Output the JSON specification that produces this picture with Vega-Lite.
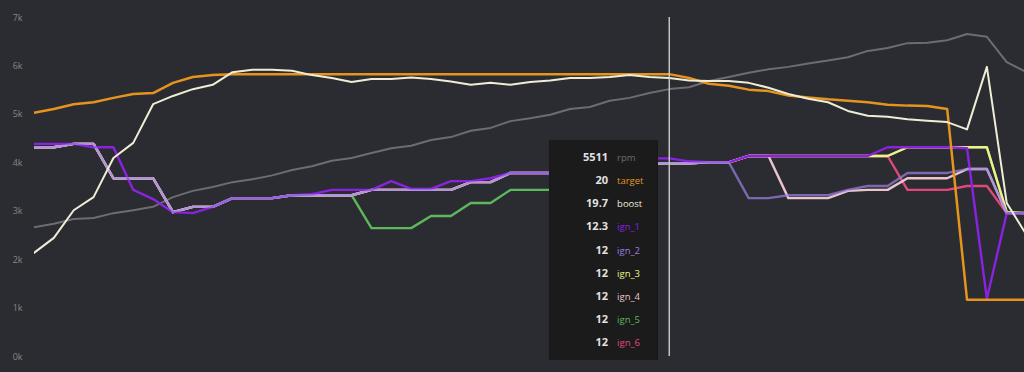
{
  "$schema": "https://vega.github.io/schema/vega-lite/v6.json",
  "width": 990,
  "height": 339,
  "autosize": {"type": "none"},
  "padding": {"left": 34, "top": 17, "right": 0, "bottom": 16},
  "background": "#2b2c31",
  "config": {"view": {"stroke": null}, "font": "Open Sans"},
  "datasets": {
    "series": [
      {"i":0,"rpm":2660,"target":5020,"boost":2130,"ign_1":4380,"ign_2":4310,"ign_3":4310,"ign_4":4310,"ign_5":4310,"ign_6":4310},
      {"i":1,"rpm":2730,"target":5100,"boost":2440,"ign_1":4380,"ign_2":4310,"ign_3":4310,"ign_4":4310,"ign_5":4310,"ign_6":4310},
      {"i":2,"rpm":2830,"target":5200,"boost":3010,"ign_1":4380,"ign_2":4380,"ign_3":4380,"ign_4":4380,"ign_5":4380,"ign_6":4380},
      {"i":3,"rpm":2850,"target":5240,"boost":3280,"ign_1":4310,"ign_2":4380,"ign_3":4380,"ign_4":4380,"ign_5":4380,"ign_6":4380},
      {"i":4,"rpm":2950,"target":5330,"boost":4090,"ign_1":4310,"ign_2":3670,"ign_3":3670,"ign_4":3670,"ign_5":3670,"ign_6":3670},
      {"i":5,"rpm":3010,"target":5410,"boost":4400,"ign_1":3430,"ign_2":3670,"ign_3":3670,"ign_4":3670,"ign_5":3670,"ign_6":3670},
      {"i":6,"rpm":3080,"target":5430,"boost":5200,"ign_1":3240,"ign_2":3670,"ign_3":3670,"ign_4":3670,"ign_5":3670,"ign_6":3670},
      {"i":7,"rpm":3280,"target":5640,"boost":5370,"ign_1":2970,"ign_2":2970,"ign_3":2970,"ign_4":2970,"ign_5":2970,"ign_6":2970},
      {"i":8,"rpm":3410,"target":5760,"boost":5510,"ign_1":2950,"ign_2":3080,"ign_3":3080,"ign_4":3080,"ign_5":3080,"ign_6":3080},
      {"i":9,"rpm":3490,"target":5800,"boost":5600,"ign_1":3080,"ign_2":3080,"ign_3":3080,"ign_4":3080,"ign_5":3080,"ign_6":3080},
      {"i":10,"rpm":3590,"target":5820,"boost":5860,"ign_1":3260,"ign_2":3260,"ign_3":3260,"ign_4":3260,"ign_5":3260,"ign_6":3260},
      {"i":11,"rpm":3650,"target":5820,"boost":5910,"ign_1":3260,"ign_2":3260,"ign_3":3260,"ign_4":3260,"ign_5":3260,"ign_6":3260},
      {"i":12,"rpm":3730,"target":5820,"boost":5910,"ign_1":3260,"ign_2":3260,"ign_3":3260,"ign_4":3260,"ign_5":3260,"ign_6":3260},
      {"i":13,"rpm":3840,"target":5820,"boost":5890,"ign_1":3320,"ign_2":3320,"ign_3":3320,"ign_4":3320,"ign_5":3320,"ign_6":3320},
      {"i":14,"rpm":3920,"target":5820,"boost":5800,"ign_1":3340,"ign_2":3320,"ign_3":3320,"ign_4":3320,"ign_5":3320,"ign_6":3320},
      {"i":15,"rpm":4030,"target":5820,"boost":5740,"ign_1":3430,"ign_2":3320,"ign_3":3320,"ign_4":3320,"ign_5":3320,"ign_6":3320},
      {"i":16,"rpm":4090,"target":5820,"boost":5660,"ign_1":3430,"ign_2":3320,"ign_3":3320,"ign_4":3320,"ign_5":3320,"ign_6":3320},
      {"i":17,"rpm":4190,"target":5820,"boost":5720,"ign_1":3430,"ign_2":3430,"ign_3":3430,"ign_4":3430,"ign_5":2640,"ign_6":3430},
      {"i":18,"rpm":4290,"target":5820,"boost":5720,"ign_1":3610,"ign_2":3430,"ign_3":3430,"ign_4":3430,"ign_5":2640,"ign_6":3430},
      {"i":19,"rpm":4340,"target":5820,"boost":5750,"ign_1":3450,"ign_2":3430,"ign_3":3430,"ign_4":3430,"ign_5":2640,"ign_6":3430},
      {"i":20,"rpm":4460,"target":5820,"boost":5720,"ign_1":3450,"ign_2":3430,"ign_3":3430,"ign_4":3430,"ign_5":2890,"ign_6":3430},
      {"i":21,"rpm":4520,"target":5820,"boost":5670,"ign_1":3610,"ign_2":3430,"ign_3":3430,"ign_4":3430,"ign_5":2890,"ign_6":3430},
      {"i":22,"rpm":4650,"target":5820,"boost":5600,"ign_1":3610,"ign_2":3590,"ign_3":3590,"ign_4":3590,"ign_5":3160,"ign_6":3590},
      {"i":23,"rpm":4710,"target":5820,"boost":5640,"ign_1":3670,"ign_2":3590,"ign_3":3590,"ign_4":3590,"ign_5":3160,"ign_6":3590},
      {"i":24,"rpm":4850,"target":5820,"boost":5600,"ign_1":3780,"ign_2":3780,"ign_3":3780,"ign_4":3780,"ign_5":3430,"ign_6":3780},
      {"i":25,"rpm":4910,"target":5820,"boost":5660,"ign_1":3780,"ign_2":3780,"ign_3":3780,"ign_4":3780,"ign_5":3430,"ign_6":3780},
      {"i":26,"rpm":4980,"target":5820,"boost":5690,"ign_1":3780,"ign_2":3780,"ign_3":3780,"ign_4":3780,"ign_5":3430,"ign_6":3780},
      {"i":27,"rpm":5100,"target":5820,"boost":5740,"ign_1":3800,"ign_2":3780,"ign_3":3780,"ign_4":3780,"ign_5":3600,"ign_6":3780},
      {"i":28,"rpm":5140,"target":5820,"boost":5740,"ign_1":3850,"ign_2":3850,"ign_3":3850,"ign_4":3850,"ign_5":3800,"ign_6":3850},
      {"i":29,"rpm":5270,"target":5820,"boost":5760,"ign_1":3950,"ign_2":3920,"ign_3":3920,"ign_4":3920,"ign_5":3900,"ign_6":3920},
      {"i":30,"rpm":5330,"target":5820,"boost":5800,"ign_1":4050,"ign_2":3980,"ign_3":3980,"ign_4":3980,"ign_5":3980,"ign_6":3980},
      {"i":31,"rpm":5430,"target":5820,"boost":5760,"ign_1":4080,"ign_2":3980,"ign_3":3980,"ign_4":3980,"ign_5":3980,"ign_6":3980},
      {"i":32,"rpm":5511,"target":5820,"boost":5740,"ign_1":4080,"ign_2":3980,"ign_3":3980,"ign_4":3980,"ign_5":3980,"ign_6":3980},
      {"i":33,"rpm":5550,"target":5740,"boost":5690,"ign_1":4020,"ign_2":3980,"ign_3":3980,"ign_4":3980,"ign_5":3980,"ign_6":3980},
      {"i":34,"rpm":5680,"target":5620,"boost":5680,"ign_1":4000,"ign_2":4000,"ign_3":4000,"ign_4":4000,"ign_5":4000,"ign_6":4000},
      {"i":35,"rpm":5760,"target":5580,"boost":5680,"ign_1":4000,"ign_2":4000,"ign_3":4000,"ign_4":4000,"ign_5":4000,"ign_6":4000},
      {"i":36,"rpm":5850,"target":5500,"boost":5640,"ign_1":4130,"ign_2":3260,"ign_3":4130,"ign_4":4130,"ign_5":4130,"ign_6":4130},
      {"i":37,"rpm":5920,"target":5470,"boost":5540,"ign_1":4130,"ign_2":3260,"ign_3":4130,"ign_4":4130,"ign_5":4130,"ign_6":4130},
      {"i":38,"rpm":5970,"target":5380,"boost":5410,"ign_1":4130,"ign_2":3320,"ign_3":4130,"ign_4":3260,"ign_5":4130,"ign_6":4130},
      {"i":39,"rpm":6040,"target":5340,"boost":5310,"ign_1":4130,"ign_2":3320,"ign_3":4130,"ign_4":3260,"ign_5":4130,"ign_6":4130},
      {"i":40,"rpm":6100,"target":5300,"boost":5240,"ign_1":4130,"ign_2":3320,"ign_3":4130,"ign_4":3260,"ign_5":4130,"ign_6":4130},
      {"i":41,"rpm":6170,"target":5270,"boost":5060,"ign_1":4130,"ign_2":3430,"ign_3":4130,"ign_4":3410,"ign_5":4130,"ign_6":4130},
      {"i":42,"rpm":6300,"target":5240,"boost":4960,"ign_1":4130,"ign_2":3510,"ign_3":4130,"ign_4":3430,"ign_5":4130,"ign_6":4130},
      {"i":43,"rpm":6360,"target":5190,"boost":4940,"ign_1":4310,"ign_2":3510,"ign_3":4130,"ign_4":3430,"ign_5":4130,"ign_6":4130},
      {"i":44,"rpm":6460,"target":5170,"boost":4890,"ign_1":4310,"ign_2":3780,"ign_3":4310,"ign_4":3670,"ign_5":4310,"ign_6":3430},
      {"i":45,"rpm":6470,"target":5160,"boost":4860,"ign_1":4310,"ign_2":3780,"ign_3":4310,"ign_4":3670,"ign_5":4310,"ign_6":3430},
      {"i":46,"rpm":6520,"target":5100,"boost":4830,"ign_1":4310,"ign_2":3780,"ign_3":4310,"ign_4":3670,"ign_5":4310,"ign_6":3430},
      {"i":47,"rpm":6650,"target":1160,"boost":4680,"ign_1":4290,"ign_2":3860,"ign_3":4310,"ign_4":3860,"ign_5":4310,"ign_6":3510},
      {"i":48,"rpm":6590,"target":1160,"boost":5970,"ign_1":1180,"ign_2":3860,"ign_3":4310,"ign_4":3860,"ign_5":4310,"ign_6":3510},
      {"i":49,"rpm":6070,"target":1160,"boost":3160,"ign_1":2950,"ign_2":2950,"ign_3":2970,"ign_4":2950,"ign_5":2970,"ign_6":2950},
      {"i":50,"rpm":5860,"target":1160,"boost":2500,"ign_1":2950,"ign_2":2950,"ign_3":2950,"ign_4":2950,"ign_5":2950,"ign_6":2950}
    ],
    "readout": [
      {"series":"rpm","val":"5511"},
      {"series":"target","val":"20"},
      {"series":"boost","val":"19.7"},
      {"series":"ign_1","val":"12.3"},
      {"series":"ign_2","val":"12"},
      {"series":"ign_3","val":"12"},
      {"series":"ign_4","val":"12"},
      {"series":"ign_5","val":"12"},
      {"series":"ign_6","val":"12"}
    ]
  },
  "layer": [
    {
      "data": {"name": "series"},
      "layer": [
        {
          "transform": [{"fold": ["rpm"], "as": ["series", "value"]}],
          "mark": {"type": "line", "clip": true, "strokeWidth": 2, "strokeJoin": "round", "strokeCap": "round"},
          "encoding": {
            "x": {"field": "i", "type": "quantitative", "scale": {"domain": [0, 49.87], "nice": false, "zero": false}, "axis": null},
            "y": {"field": "value", "type": "quantitative", "scale": {"domain": [0, 7000], "nice": false, "zero": false},
                  "axis": {"values": [0,1000,2000,3000,4000,5000,6000,7000], "labelExpr": "(datum.value/1000) + 'k'", "domain": false, "ticks": false, "grid": false, "title": null, "labelColor": "#85858a", "labelFontSize": 9, "labelPadding": 12, "labelFont": "Open Sans"}},
            "color": {"field": "series", "type": "nominal", "legend": null,
                      "scale": {"domain": ["rpm","target","boost","ign_1","ign_2","ign_3","ign_4","ign_5","ign_6"],
                                "range": ["#6c6c72","#e6941e","#efedd6","#8a22e0","#9a7fe0","#eef08a","#ebc5cc","#5cb85c","#e0487c"]}}
          }
        },
        {
          "transform": [{"fold": ["ign_5","ign_6","ign_3","ign_4","ign_1"], "as": ["series", "value"]}],
          "mark": {"type": "line", "clip": true, "strokeWidth": 2.4, "strokeJoin": "round", "strokeCap": "round"},
          "encoding": {
            "x": {"field": "i", "type": "quantitative", "scale": {"domain": [0, 49.87], "nice": false, "zero": false}, "axis": null},
            "y": {"field": "value", "type": "quantitative", "scale": {"domain": [0, 7000], "nice": false, "zero": false},
                  "axis": {"values": [0,1000,2000,3000,4000,5000,6000,7000], "labelExpr": "(datum.value/1000) + 'k'", "domain": false, "ticks": false, "grid": false, "title": null, "labelColor": "#85858a", "labelFontSize": 9, "labelPadding": 12, "labelFont": "Open Sans"}},
            "color": {"field": "series", "type": "nominal", "legend": null,
                      "scale": {"domain": ["rpm","target","boost","ign_1","ign_2","ign_3","ign_4","ign_5","ign_6"],
                                "range": ["#6c6c72","#e6941e","#efedd6","#8a22e0","#9a7fe0","#eef08a","#ebc5cc","#5cb85c","#e0487c"]}}
          }
        },
        {
          "transform": [{"fold": ["ign_2"], "as": ["series", "value"]}],
          "mark": {"type": "line", "clip": true, "strokeWidth": 2.4, "opacity": 0.72, "strokeJoin": "round", "strokeCap": "round"},
          "encoding": {
            "x": {"field": "i", "type": "quantitative", "scale": {"domain": [0, 49.87], "nice": false, "zero": false}, "axis": null},
            "y": {"field": "value", "type": "quantitative", "scale": {"domain": [0, 7000], "nice": false, "zero": false},
                  "axis": {"values": [0,1000,2000,3000,4000,5000,6000,7000], "labelExpr": "(datum.value/1000) + 'k'", "domain": false, "ticks": false, "grid": false, "title": null, "labelColor": "#85858a", "labelFontSize": 9, "labelPadding": 12, "labelFont": "Open Sans"}},
            "color": {"field": "series", "type": "nominal", "legend": null,
                      "scale": {"domain": ["rpm","target","boost","ign_1","ign_2","ign_3","ign_4","ign_5","ign_6"],
                                "range": ["#6c6c72","#e6941e","#efedd6","#8a22e0","#9a7fe0","#eef08a","#ebc5cc","#5cb85c","#e0487c"]}}
          }
        },
        {
          "transform": [{"fold": ["target"], "as": ["series", "value"]}],
          "mark": {"type": "line", "clip": true, "strokeWidth": 2.5, "strokeJoin": "round", "strokeCap": "round"},
          "encoding": {
            "x": {"field": "i", "type": "quantitative", "scale": {"domain": [0, 49.87], "nice": false, "zero": false}, "axis": null},
            "y": {"field": "value", "type": "quantitative", "scale": {"domain": [0, 7000], "nice": false, "zero": false},
                  "axis": {"values": [0,1000,2000,3000,4000,5000,6000,7000], "labelExpr": "(datum.value/1000) + 'k'", "domain": false, "ticks": false, "grid": false, "title": null, "labelColor": "#85858a", "labelFontSize": 9, "labelPadding": 12, "labelFont": "Open Sans"}},
            "color": {"field": "series", "type": "nominal", "legend": null,
                      "scale": {"domain": ["rpm","target","boost","ign_1","ign_2","ign_3","ign_4","ign_5","ign_6"],
                                "range": ["#6c6c72","#e6941e","#efedd6","#8a22e0","#9a7fe0","#eef08a","#ebc5cc","#5cb85c","#e0487c"]}}
          }
        },
        {
          "transform": [{"fold": ["boost"], "as": ["series", "value"]}],
          "mark": {"type": "line", "clip": true, "strokeWidth": 2, "strokeJoin": "round", "strokeCap": "round"},
          "encoding": {
            "x": {"field": "i", "type": "quantitative", "scale": {"domain": [0, 49.87], "nice": false, "zero": false}, "axis": null},
            "y": {"field": "value", "type": "quantitative", "scale": {"domain": [0, 7000], "nice": false, "zero": false},
                  "axis": {"values": [0,1000,2000,3000,4000,5000,6000,7000], "labelExpr": "(datum.value/1000) + 'k'", "domain": false, "ticks": false, "grid": false, "title": null, "labelColor": "#85858a", "labelFontSize": 9, "labelPadding": 12, "labelFont": "Open Sans"}},
            "color": {"field": "series", "type": "nominal", "legend": null,
                      "scale": {"domain": ["rpm","target","boost","ign_1","ign_2","ign_3","ign_4","ign_5","ign_6"],
                                "range": ["#6c6c72","#e6941e","#efedd6","#8a22e0","#9a7fe0","#eef08a","#ebc5cc","#5cb85c","#e0487c"]}}
          }
        },
        {
          "mark": {"type": "rect", "color": "#1b1b1c"},
          "encoding": {
            "x": {"datum": 25.95, "type": "quantitative"},
            "x2": {"datum": 31.39},
            "y": {"datum": 4460, "type": "quantitative"},
            "y2": {"datum": -80}
          }
        },
        {
          "mark": {"type": "rule", "color": "#c4c4c4", "strokeWidth": 1},
          "encoding": {
            "x": {"datum": 32.012, "type": "quantitative"}
          }
        }
      ]
    },
    {
      "data": {"name": "readout"},
      "layer": [
        {
          "mark": {"type": "text", "align": "right", "baseline": "middle", "dx": -5, "fontSize": 11, "fontWeight": "bold", "color": "#e2e2e2", "font": "Open Sans"},
          "encoding": {
            "x": {"datum": 29.17, "type": "quantitative"},
            "y": {"field": "series", "type": "nominal", "axis": null,
                  "scale": {"type": "point", "domain": ["rpm","target","boost","ign_1","ign_2","ign_3","ign_4","ign_5","ign_6"], "range": [141, 326], "padding": 0}},
            "text": {"field": "val"}
          }
        },
        {
          "mark": {"type": "text", "align": "left", "baseline": "middle", "dx": 4, "fontSize": 9.5, "font": "Open Sans"},
          "encoding": {
            "x": {"datum": 29.17, "type": "quantitative"},
            "y": {"field": "series", "type": "nominal", "axis": null,
                  "scale": {"type": "point", "domain": ["rpm","target","boost","ign_1","ign_2","ign_3","ign_4","ign_5","ign_6"], "range": [141, 326], "padding": 0}},
            "text": {"field": "series"},
            "color": {"field": "series", "type": "nominal", "legend": null,
                      "scale": {"domain": ["rpm","target","boost","ign_1","ign_2","ign_3","ign_4","ign_5","ign_6"],
                                "range": ["#6c6c72","#e6941e","#efedd6","#8a22e0","#9a7fe0","#eef08a","#ebc5cc","#5cb85c","#e0487c"]}}
          }
        }
      ]
    }
  ],
  "resolve": {"scale": {"y": "independent"}}
}
